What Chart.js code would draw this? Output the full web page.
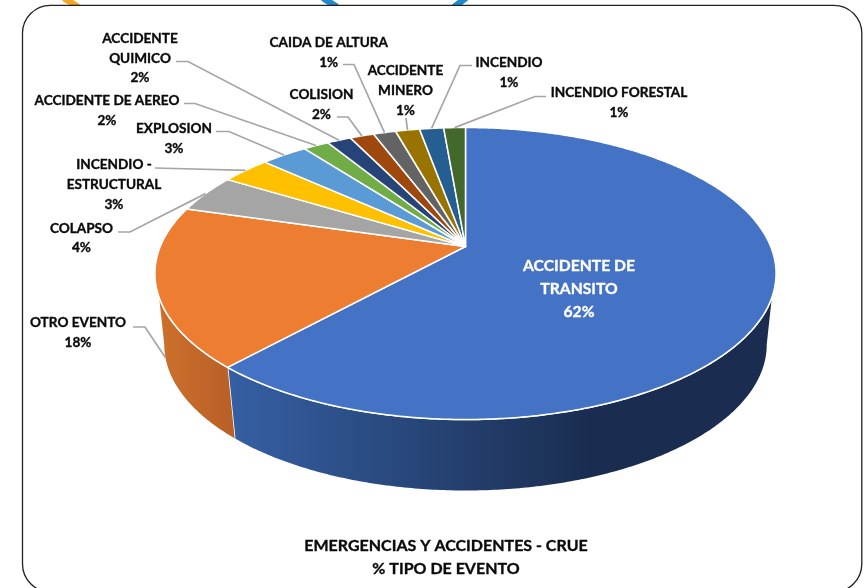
<!DOCTYPE html>
<html>
<head>
<meta charset="utf-8">
<style>
    html, body { margin: 0; padding: 0; background: #fff; }
    canvas { display: block; filter: blur(0.35px); }
</style>
</head>
<body>
<canvas id="eventChart" width="865" height="588"></canvas>
<script src="https://cdn.jsdelivr.net/npm/chart.js@4"></script>
<script>
const categories = ['ACCIDENTE DE TRANSITO', 'OTRO EVENTO', 'COLAPSO', 'INCENDIO - ESTRUCTURAL', 'EXPLOSION',
    'ACCIDENTE DE AEREO', 'ACCIDENTE QUIMICO', 'COLISION', 'CAIDA DE ALTURA', 'ACCIDENTE MINERO', 'INCENDIO',
    'INCENDIO FORESTAL'];
const eventValues = [61.75, 17.75, 4.2, 3.05, 2.9, 1.6, 1.5, 1.5, 1.4, 1.5, 1.5, 1.35];
const percentLabels = ['62%', '18%', '4%', '3%', '3%', '2%', '2%', '2%', '1%', '1%', '1%', '1%'];
const titleLines = ['EMERGENCIAS Y ACCIDENTES - CRUE', '% TIPO DE EVENTO'];

const sliceColors = ['#4472C4', '#ED7D31', '#A5A5A5', '#FFC000', '#5B9BD5', '#70AD47', '#264478', '#9E480E',
    '#636363', '#997300', '#255E91', '#43682B'];

// text lines, centre x and first line y for each category
const labelLayout = [
    {lines: ['ACCIDENTE DE', 'TRANSITO'], x: 579, y: 265.5, step: 23, big: true},
    {lines: ['OTRO EVENTO'], x: 78, y: 323, step: 20},
    {lines: ['COLAPSO'], x: 81.5, y: 229, step: 19},
    {lines: ['INCENDIO -', 'ESTRUCTURAL'], x: 114, y: 165, step: 19.7},
    {lines: ['EXPLOSION'], x: 174, y: 129, step: 20},
    {lines: ['ACCIDENTE DE AEREO'], x: 107, y: 101, step: 20},
    {lines: ['ACCIDENTE', 'QUIMICO'], x: 140, y: 38.5, step: 19.7},
    {lines: ['COLISION'], x: 321.5, y: 95, step: 20},
    {lines: ['CAIDA DE ALTURA'], x: 328.7, y: 43, step: 20},
    {lines: ['ACCIDENTE', 'MINERO'], x: 405.5, y: 71, step: 19.7},
    {lines: ['INCENDIO'], x: 509, y: 63, step: 20},
    {lines: ['INCENDIO FORESTAL'], x: 619, y: 93, step: 20}
];

// leader lines: start and elbow near the text, the end comes from the slice
const leaders = [
    null,
    {path: [[133, 327], [145, 327]], lower: true},
    {path: [[118, 232], [130, 232]]},
    {path: [[155, 168]]},
    {path: [[216, 131.5], [229, 131.5]]},
    {path: [[184, 103.5], [195, 103.5]]},
    {path: [[176, 61.5], [188, 61.5]]},
    {path: [[337, 117], [348, 117]]},
    {path: [[343, 64.5], [354, 64.5]]},
    {path: [[406, 118]]},
    {path: [[472, 65.5], [460, 65.5]]},
    {path: [[546, 96.5], [535, 96.5]]}
];

// perspective of the tilted disc
const apexX = 465.5, apexY = 246.5;
const discA = 305.2, discB = 141, tilt = 0.185;
const wallDrop = 71, wallNarrow = 0.97;
const topRimFrom = 0.346, lowRimFrom = 0.186;

function project(angle, lower) {
    const u = Math.cos(angle);
    const v = Math.sin(angle);
    const w = 1 - tilt * v;
    if (lower) {
        return [apexX + wallNarrow * discA * u / w, apexY + wallDrop + discB * v / w];
    }
    return [apexX + discA * u / w, apexY + discB * v / w];
}

function rimPoints(from, to, lower) {
    const pts = [];
    const n = Math.max(2, Math.ceil((to - from) / 0.01));
    for (let i = 0; i <= n; i++) {
        pts.push(project(from + (to - from) * i / n, lower));
    }
    return pts;
}

function tracePath(ctx, pts) {
    ctx.beginPath();
    pts.forEach(function (p, i) {
        if (i === 0) ctx.moveTo(p[0], p[1]);
        else ctx.lineTo(p[0], p[1]);
    });
    ctx.closePath();
}

function drawWall(ctx, arc, stops) {
    const a1 = Math.max(arc.startAngle, topRimFrom), a2 = Math.min(arc.endAngle, Math.PI - topRimFrom);
    if (a1 >= a2) return;
    const b1 = Math.max(arc.startAngle, lowRimFrom), b2 = Math.min(arc.endAngle, Math.PI - lowRimFrom);
    const top = rimPoints(a1, a2, false);
    const low = rimPoints(b1, b2, true).reverse();
    const grad = ctx.createLinearGradient(stops.from, 0, stops.to, 0);
    grad.addColorStop(0, stops.left);
    grad.addColorStop(1, stops.right);
    tracePath(ctx, top.concat(low));
    ctx.fillStyle = grad;
    ctx.fill();
    // white seam only along the top rim and the slice edge
    ctx.strokeStyle = '#fff';
    ctx.lineWidth = 1.6;
    ctx.beginPath();
    ctx.moveTo(top[0][0], top[0][1]);
    top.forEach(function (p) { ctx.lineTo(p[0], p[1]); });
    if (a2 === arc.endAngle) ctx.lineTo(low[0][0], low[0][1]);
    ctx.stroke();
}

function drawText(ctx, text, x, y) {
    ctx.strokeText(text, x, y);
    ctx.fillText(text, x, y);
}

const perspectivePie = {
    id: 'perspectivePie',
    beforeDraw: function (chart) {
        const ctx = chart.ctx;
        ctx.save();
        ctx.fillStyle = '#fff';
        ctx.fillRect(0, 0, chart.width, chart.height);
        // bits of the slide decoration above the frame
        ctx.lineWidth = 6.5;
        ctx.strokeStyle = '#F5A623';
        ctx.beginPath(); ctx.moveTo(64, -2); ctx.lineTo(78, 7); ctx.stroke();
        ctx.strokeStyle = '#2389C9';
        ctx.beginPath(); ctx.moveTo(323, -2); ctx.lineTo(337, 7); ctx.stroke();
        ctx.beginPath(); ctx.moveTo(466, -2); ctx.lineTo(454, 7); ctx.stroke();
        // frame
        ctx.fillStyle = '#fff';
        ctx.strokeStyle = '#222';
        ctx.lineWidth = 1.3;
        ctx.beginPath();
        ctx.roundRect(22.5, 5.3, 839.3, 586.7, 28);
        ctx.fill();
        ctx.stroke();
        ctx.restore();
    },
    beforeDatasetDraw: function (chart, args) {
        const ctx = chart.ctx;
        const arcs = chart.getDatasetMeta(args.index).data;
        ctx.save();
        ctx.lineJoin = 'round';
        drawWall(ctx, arcs[0], {from: 232, to: 590, left: '#355FA3', right: '#1A2D50'});
        drawWall(ctx, arcs[1], {from: 160, to: 232, left: '#CC702B', right: '#B96028'});
        arcs.forEach(function (arc, i) {
            tracePath(ctx, [[apexX, apexY]].concat(rimPoints(arc.startAngle, arc.endAngle, false)));
            ctx.fillStyle = sliceColors[i];
            ctx.fill();
            ctx.strokeStyle = '#fff';
            ctx.lineWidth = 1.5;
            ctx.stroke();
        });
        ctx.restore();
        return false;
    },
    afterDraw: function (chart) {
        const ctx = chart.ctx;
        const arcs = chart.getDatasetMeta(0).data;
        ctx.save();
        ctx.strokeStyle = '#A6A6A6';
        ctx.lineWidth = 1.7;
        leaders.forEach(function (leader, i) {
            if (!leader) return;
            const mid = (arcs[i].startAngle + arcs[i].endAngle) / 2;
            const end = project(mid, leader.lower);
            ctx.beginPath();
            leader.path.concat([end]).forEach(function (p, j) {
                if (j === 0) ctx.moveTo(p[0], p[1]);
                else ctx.lineTo(p[0], p[1]);
            });
            ctx.stroke();
        });
        ctx.textAlign = 'center';
        ctx.textBaseline = 'middle';
        ctx.lineJoin = 'round';
        ctx.lineWidth = 0.35;
        labelLayout.forEach(function (label, i) {
            ctx.font = label.big ? 'bold 15.7px Lato' : 'bold 13.6px Lato';
            ctx.fillStyle = label.big ? '#fff' : '#0a0a0a';
            ctx.strokeStyle = ctx.fillStyle;
            label.lines.concat(percentLabels[i]).forEach(function (line, j) {
                drawText(ctx, line, label.x, label.y + j * label.step);
            });
        });
        ctx.font = 'bold 16px Lato';
        ctx.fillStyle = '#0a0a0a';
        ctx.strokeStyle = '#0a0a0a';
        titleLines.forEach(function (line, j) {
            drawText(ctx, line, 446, 545.5 + j * 23);
        });
        ctx.restore();
    }
};

new Chart(document.getElementById('eventChart').getContext('2d'), {
    type: 'pie',
    data: {
        labels: categories,
        datasets: [{
            data: eventValues,
            backgroundColor: sliceColors
        }]
    },
    options: {
        responsive: false,
        animation: false,
        plugins: {
            legend: {display: false},
            tooltip: {enabled: false}
        }
    },
    plugins: [perspectivePie]
});
</script>
</body>
</html>
